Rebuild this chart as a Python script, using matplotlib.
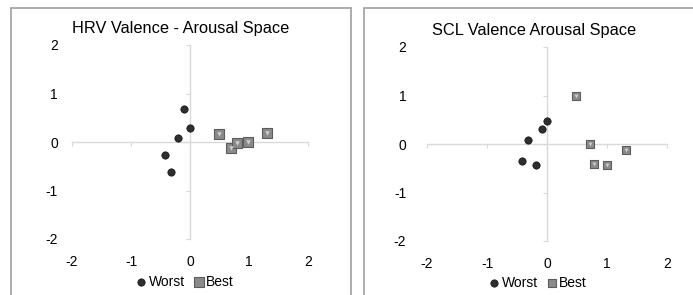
import matplotlib
matplotlib.use("Agg")
import matplotlib.pyplot as plt
from matplotlib.patches import Rectangle

plt.rcParams['font.family'] = ['Liberation Sans', 'DejaVu Sans']

# HRV panel data
hrv_worst_x = [-0.11, 0.0, -0.21, -0.42, -0.32]
hrv_worst_y = [0.68, 0.29, 0.08, -0.26, -0.62]
hrv_best_x = [0.49, 0.69, 0.79, 0.99, 1.31]
hrv_best_y = [0.16, -0.13, -0.03, -0.01, 0.18]

# SCL panel data
scl_worst_x = [0.0, -0.09, -0.31, -0.41, -0.19]
scl_worst_y = [0.47, 0.31, 0.08, -0.35, -0.43]
scl_best_x = [0.49, 0.71, 1.31, 0.79, 1.0]
scl_best_y = [0.99, 0.01, -0.13, -0.41, -0.43]

ticks = [-2, -1, 0, 1, 2]
tick_labels = ["-2", "-1", "0", "1", "2"]

W, H = 693, 295
fig = plt.figure(figsize=(W / 100, H / 100), dpi=100)

# panel frames
for (x0, x1) in [(11, 351), (364, 700)]:
    fig.add_artist(Rectangle((x0 / W, -0.1), (x1 - x0) / W, 1.1 - 8 / H,
                             transform=fig.transFigure, fill=False,
                             edgecolor="#a6a6a6", linewidth=1.3))


def make_panel(rect, title, title_xy, wx, wy, bx, by, sq_size, leg_xy, ylab_pad):
    ax = fig.add_axes(rect)
    ax.set_xlim(-2, 2)
    ax.set_ylim(-2, 2)
    for s in ["top", "right"]:
        ax.spines[s].set_visible(False)
    ax.spines["left"].set_position(("data", 0))
    ax.spines["bottom"].set_position(("data", 0))
    for s in ["left", "bottom"]:
        ax.spines[s].set_color("#d9d9d9")
        ax.spines[s].set_linewidth(1.0)
    ax.set_xticks(ticks)
    ax.set_yticks(ticks)
    ax.tick_params(direction="out", length=3, color="#d9d9d9",
                   labelleft=False, labelbottom=False)

    # tick labels at the outer edge
    lab = fig.add_axes(rect, sharex=ax, sharey=ax)
    lab.set_frame_on(False)
    lab.patch.set_visible(False)
    lab.set_xticks(ticks)
    lab.set_xticklabels(tick_labels)
    lab.set_yticks(ticks)
    lab.set_yticklabels(tick_labels)
    lab.tick_params(axis="x", length=0, pad=11.5, labelsize=10)
    lab.tick_params(axis="y", length=0, pad=ylab_pad, labelsize=10)

    w = ax.scatter(wx, wy, s=28, marker="o", color="#2e2e2e",
                   edgecolor="#111111", linewidth=0.5, zorder=3, label="Worst")
    b = ax.scatter(bx, by, s=sq_size, marker="s", color="#8a8a8a",
                   edgecolor="#5c5c5c", linewidth=0.8, zorder=3, label="Best")
    ax.scatter(bx, by, s=sq_size * 0.25, marker="v", color="#d0d0d0",
               linewidth=0, zorder=4)

    fig.text(title_xy[0] / W, 1 - title_xy[1] / H, title, ha="center",
             va="center", fontsize=11.8)
    fig.legend([w, b], ["Worst", "Best"], loc="center",
               bbox_to_anchor=(leg_xy[0] / W, 1 - leg_xy[1] / H), ncol=2,
               frameon=False, fontsize=10, handletextpad=0.05,
               columnspacing=0.5, handlelength=1.0, borderpad=0)
    return ax


make_panel([72 / W, 1 - 239 / H, 236 / W, 194 / H],
           "HRV Valence - Arousal Space", (181, 29),
           hrv_worst_x, hrv_worst_y, hrv_best_x, hrv_best_y, 42, (184, 282), 10)
make_panel([427 / W, 1 - 241 / H, 240 / W, 194 / H],
           "SCL Valence Arousal Space", (534, 30),
           scl_worst_x, scl_worst_y, scl_best_x, scl_best_y, 28, (537, 283), 15)

fig.savefig("out.png", dpi=100)
